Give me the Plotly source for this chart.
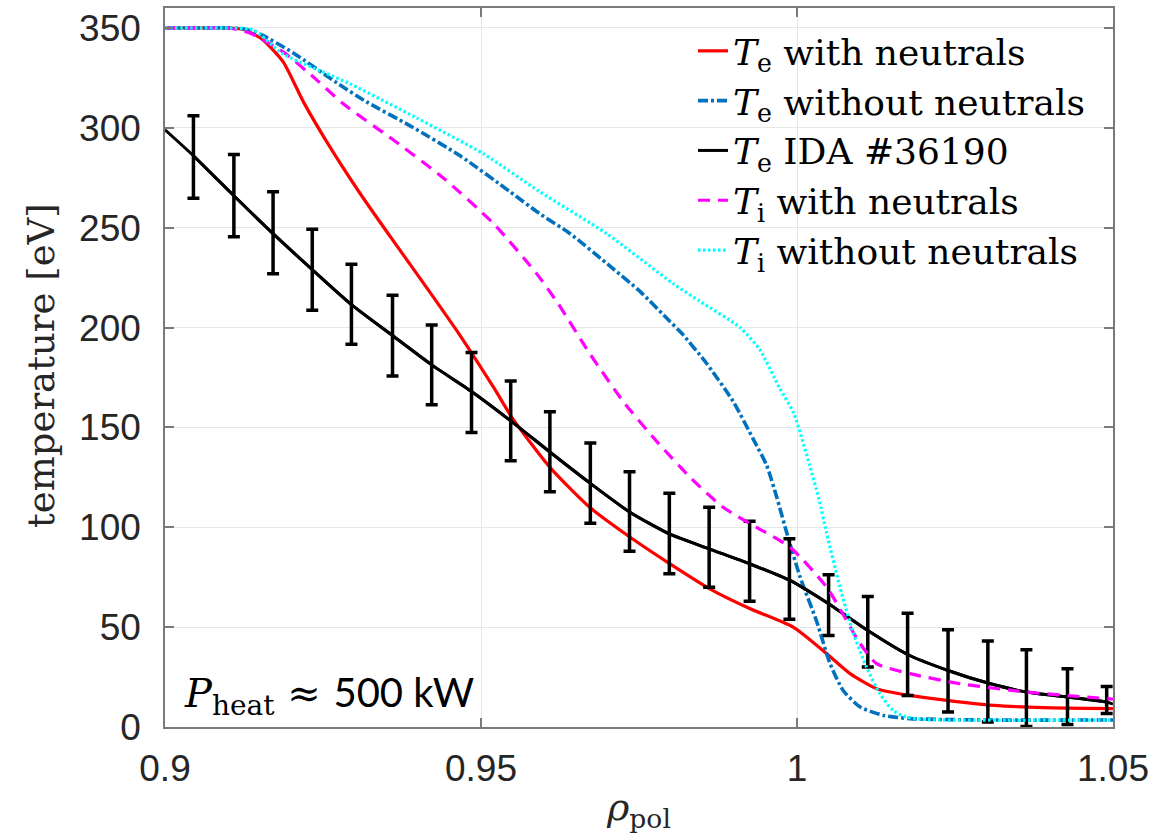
import plotly.graph_objects as go

# ---------------- data ----------------
rho_te_n = [0.9, 0.905, 0.91, 0.9127, 0.9155, 0.9187, 0.9219, 0.9256, 0.9309, 0.9361, 0.9414,
            0.9467, 0.952, 0.9551, 0.9609, 0.9672, 0.9736, 0.9799, 0.9862, 0.9926, 0.9994,
            1.0047, 1.0084, 1.0126, 1.0179, 1.0237, 1.0311, 1.039, 1.05]
te_n = [350, 350, 350, 349, 344, 333, 313, 293, 267, 243.5, 220,
        196, 170, 154, 130, 110, 95, 81.7, 69.2, 59.2, 50,
        36.7, 26.7, 19.2, 15.8, 13.3, 10.8, 9.7, 9.2]

rho_te_nn = [0.9, 0.905, 0.91, 0.9125, 0.915, 0.9203, 0.9272, 0.9319, 0.9388, 0.9467,
             0.9546, 0.9593, 0.9641, 0.9707, 0.9752, 0.9796, 0.9818, 0.9857, 0.9899,
             0.9931, 0.9952, 0.9968, 0.9984, 1.0005, 1.0031, 1.0052, 1.0073, 1.01, 1.0137,
             1.0179, 1.03, 1.05]
te_nn = [350, 350, 350, 349.5, 347, 337.5, 322.5, 313, 301, 286,
         268, 257, 247, 230, 218, 204, 197, 182, 163,
         144, 131, 115, 97, 75, 53, 32, 18.3, 10, 5.8,
         4.2, 3.5, 3.5]

rho_ti_n = [0.9, 0.905, 0.91, 0.9134, 0.9187, 0.924, 0.9282, 0.9361, 0.944, 0.952, 0.9588,
            0.9622, 0.9672, 0.9725, 0.9778, 0.9831, 0.9883, 0.9936, 0.9989, 1.0047, 1.01,
            1.0126, 1.0179, 1.0258, 1.0363, 1.05]
ti_n = [350, 350, 350, 347.5, 338, 324, 312, 294, 275, 252, 227,
        212, 187, 163, 143, 125, 110, 100, 90, 70, 41.7,
        31.7, 26.7, 21.7, 17.5, 14]

rho_ti_nn = [0.9, 0.905, 0.91, 0.914, 0.9187, 0.9293, 0.9398, 0.9504, 0.9593, 0.9699, 0.9804,
             0.9847, 0.991, 0.9941, 0.9972, 0.9995, 1.002, 1.0034, 1.0047, 1.0068, 1.0089,
             1.011, 1.0131, 1.0152, 1.0173, 1.02, 1.05]
ti_nn = [350, 350, 350, 349, 337, 322, 305, 287, 268, 247, 222,
         213, 200, 189, 170, 157, 131, 115, 97, 70, 47,
         30, 16.7, 8.3, 5, 3.8, 3.5]

# IDA measurement (#36190)
rho_ida = [0.9045, 0.9109, 0.9171, 0.9233, 0.9295, 0.9360, 0.9422, 0.9485, 0.9547, 0.9609,
           0.9673, 0.9735, 0.9798, 0.9861, 0.9925, 0.9988, 1.0050, 1.0112, 1.0175, 1.0239,
           1.0302, 1.0363, 1.0428, 1.0490]
te_ida = [286, 266, 247, 229, 211.5, 196, 181.3, 168, 153.3, 137.7,
          122, 107.7, 96.7, 89.2, 81.7, 73.5, 61.7, 48.3, 36.3, 28.3,
          22, 17.5, 15, 12.5]
te_ida_hi = [306, 286.7, 268, 249.2, 231.7, 216.2, 201.3, 187.5, 173.3, 157.8,
             142.2, 127.8, 117, 110, 103, 94.2, 76.2, 65.3, 57, 48.7,
             43, 38.7, 29.2, 20.3]
te_ida_lo = [264.7, 245.5, 227, 208.7, 191.7, 175.7, 161.3, 147.5, 133.3, 117.8,
             102, 88, 76.7, 70, 63, 54, 45.8, 30, 15.8, 7.5,
             2.5, 0.3, 1.3, 6.7]
rho_ida_line = [0.9] + rho_ida + [1.05]
te_ida_line = [299] + te_ida + [11.5]

x_ticks = [0.9, 0.95, 1.0, 1.05]
x_ticklabels = ["0.9", "0.95", "1", "1.05"]
y_ticks = [0, 50, 100, 150, 200, 250, 300, 350]

# ---------------- figure ----------------
SERIF = "DejaVu Serif"
SANS = "Liberation Sans"

fig = go.Figure()

fig.add_trace(go.Scatter(x=rho_te_n, y=te_n, mode="lines",
                         line=dict(color="#FF0000", width=3.2, shape="spline", smoothing=0.6),
                         name="<i>T</i><sub>e</sub> with neutrals"))
fig.add_trace(go.Scatter(x=rho_te_nn, y=te_nn, mode="lines",
                         line=dict(color="#0072BD", width=3.6, dash="10px,3px,3px,3px",
                                   shape="spline", smoothing=0.6),
                         name="<i>T</i><sub>e</sub> without neutrals"))
fig.add_trace(go.Scatter(x=rho_ida_line, y=te_ida_line, mode="lines",
                         line=dict(color="#000000", width=3, shape="spline", smoothing=0.6),
                         showlegend=False, hoverinfo="skip"))
fig.add_trace(go.Scatter(x=rho_ida, y=te_ida, mode="lines",
                         line=dict(color="#000000", width=3, shape="spline", smoothing=0.6),
                         error_y=dict(type="data", symmetric=False,
                                      array=[h - c for h, c in zip(te_ida_hi, te_ida)],
                                      arrayminus=[c - l for c, l in zip(te_ida, te_ida_lo)],
                                      color="#000000", thickness=3.5, width=6),
                         name="<i>T</i><sub>e</sub> IDA #36190"))
fig.add_trace(go.Scatter(x=rho_ti_n, y=ti_n, mode="lines",
                         line=dict(color="#FF00FF", width=3.2, dash="12px,8px",
                                   shape="spline", smoothing=0.6),
                         name="<i>T</i><sub>i</sub> with neutrals"))
fig.add_trace(go.Scatter(x=rho_ti_nn, y=ti_nn, mode="lines",
                         line=dict(color="#00FFFF", width=3.2, dash="2.5px,2.5px",
                                   shape="spline", smoothing=0.6),
                         name="<i>T</i><sub>i</sub> without neutrals"))

axis_common = dict(showline=True, linecolor="#7a7a7a", linewidth=1.5, mirror="allticks",
                   ticks="inside", ticklen=9, tickcolor="#7a7a7a", tickwidth=1.5,
                   showgrid=True, gridcolor="#e6e6e6", gridwidth=1, zeroline=False,
                   tickfont=dict(family=SANS, size=37, color="#262626"))

fig.update_xaxes(range=[0.9, 1.05], tickvals=x_ticks, ticktext=x_ticklabels,
                 ticklabelstandoff=8, **axis_common)
fig.update_yaxes(range=[0, 360], tickvals=y_ticks, ticklabelstandoff=15, **axis_common)

fig.update_layout(
    width=1171, height=839,
    margin=dict(l=165, r=58, t=6, b=112),
    plot_bgcolor="white", paper_bgcolor="white",
    legend=dict(x=(1090 - 165) / 948, xanchor="right", y=0.982, yanchor="top",
                bgcolor="rgba(0,0,0,0)", borderwidth=0,
                font=dict(family=SERIF, size=36, color="#000000"),
                tracegroupgap=0),
    annotations=[
        dict(text="temperature [eV]", xref="paper", yref="paper",
             x=(41 - 165) / 948, y=(727 - 364) / 721, textangle=-90,
             showarrow=False, xanchor="center", yanchor="middle",
             font=dict(family=SERIF, size=37, color="#262626")),
        dict(text="<i>ρ</i><sub>pol</sub>", xref="paper", yref="paper",
             x=(638 - 165) / 948, y=(727 - 810) / 721,
             showarrow=False, xanchor="center", yanchor="middle",
             font=dict(family=SERIF, size=38, color="#262626")),
        dict(text="<i>P</i><sub>heat</sub> ≈ <span style=\"font-family:Lato\">500 kW</span>",
             xref="paper", yref="paper",
             x=(182 - 165) / 948, y=(727 - 695) / 721,
             showarrow=False, xanchor="left", yanchor="middle",
             font=dict(family=SERIF, size=40, color="#000000")),
    ],
)

fig.write_html("out.html")
